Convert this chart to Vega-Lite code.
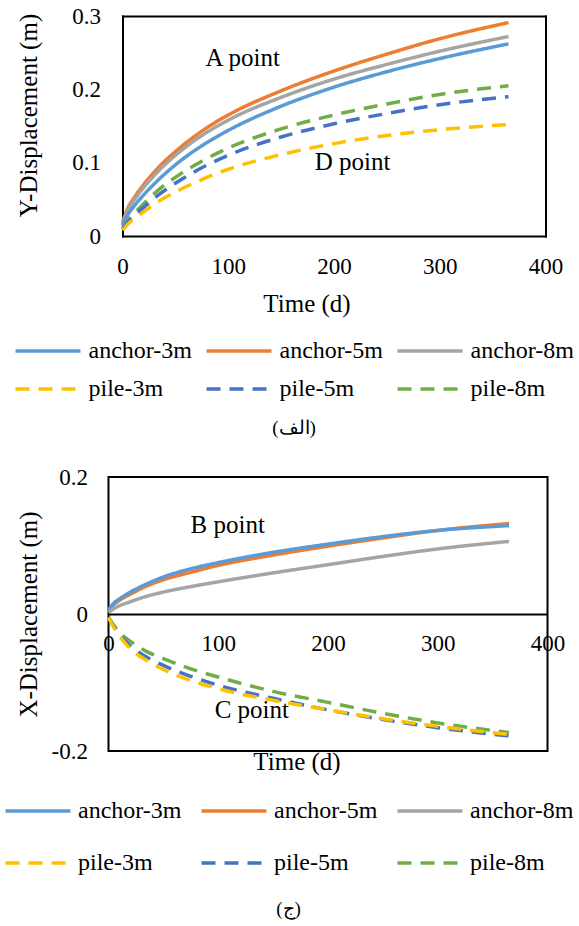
{
  "$schema": "https://vega.github.io/schema/vega-lite/v6.json",
  "background": "white",
  "padding": {"left": 2.5, "top": 5, "right": 0, "bottom": 0},
  "spacing": 27,
  "config": {
    "font": "Liberation Serif",
    "view": {"stroke": "black", "strokeWidth": 2},
    "axis": {
      "labelFont": "Liberation Serif", "titleFont": "Liberation Serif",
      "labelFontSize": 23, "titleFontSize": 25, "titleFontWeight": "normal",
      "labelColor": "black", "titleColor": "black",
      "ticks": false, "tickSize": 0, "grid": false, "domain": false,
      "labelFlush": false, "labelOverlap": false
    },
    "legend": {
      "labelFont": "Liberation Serif", "labelFontSize": 24, "labelColor": "black", "labelLimit": 300
    },
    "title": {"font": "Liberation Serif", "color": "black", "fontWeight": "normal"}
  },
  "datasets": {
    "p1": [
      {"t": 0, "v": 0.018, "s": "anchor-5m"}, {"t": 5, "v": 0.038, "s": "anchor-5m"}, {"t": 10, "v": 0.050, "s": "anchor-5m"}, {"t": 20, "v": 0.070, "s": "anchor-5m"}, {"t": 35, "v": 0.095, "s": "anchor-5m"}, {"t": 50, "v": 0.115, "s": "anchor-5m"}, {"t": 75, "v": 0.143, "s": "anchor-5m"}, {"t": 100, "v": 0.165, "s": "anchor-5m"}, {"t": 150, "v": 0.198, "s": "anchor-5m"}, {"t": 200, "v": 0.225, "s": "anchor-5m"}, {"t": 250, "v": 0.248, "s": "anchor-5m"}, {"t": 300, "v": 0.269, "s": "anchor-5m"}, {"t": 365, "v": 0.291, "s": "anchor-5m"},
      {"t": 0, "v": 0.016, "s": "anchor-8m"}, {"t": 5, "v": 0.035, "s": "anchor-8m"}, {"t": 10, "v": 0.047, "s": "anchor-8m"}, {"t": 20, "v": 0.066, "s": "anchor-8m"}, {"t": 35, "v": 0.090, "s": "anchor-8m"}, {"t": 50, "v": 0.110, "s": "anchor-8m"}, {"t": 75, "v": 0.137, "s": "anchor-8m"}, {"t": 100, "v": 0.158, "s": "anchor-8m"}, {"t": 150, "v": 0.189, "s": "anchor-8m"}, {"t": 200, "v": 0.214, "s": "anchor-8m"}, {"t": 250, "v": 0.234, "s": "anchor-8m"}, {"t": 300, "v": 0.252, "s": "anchor-8m"}, {"t": 365, "v": 0.272, "s": "anchor-8m"},
      {"t": 0, "v": 0.014, "s": "anchor-3m"}, {"t": 5, "v": 0.029, "s": "anchor-3m"}, {"t": 10, "v": 0.039, "s": "anchor-3m"}, {"t": 20, "v": 0.056, "s": "anchor-3m"}, {"t": 35, "v": 0.078, "s": "anchor-3m"}, {"t": 50, "v": 0.097, "s": "anchor-3m"}, {"t": 75, "v": 0.123, "s": "anchor-3m"}, {"t": 100, "v": 0.144, "s": "anchor-3m"}, {"t": 150, "v": 0.177, "s": "anchor-3m"}, {"t": 200, "v": 0.203, "s": "anchor-3m"}, {"t": 250, "v": 0.224, "s": "anchor-3m"}, {"t": 300, "v": 0.242, "s": "anchor-3m"}, {"t": 365, "v": 0.262, "s": "anchor-3m"},
      {"t": 0, "v": 0.010, "s": "pile-8m"}, {"t": 5, "v": 0.021, "s": "pile-8m"}, {"t": 10, "v": 0.029, "s": "pile-8m"}, {"t": 20, "v": 0.044, "s": "pile-8m"}, {"t": 35, "v": 0.064, "s": "pile-8m"}, {"t": 50, "v": 0.080, "s": "pile-8m"}, {"t": 75, "v": 0.102, "s": "pile-8m"}, {"t": 100, "v": 0.120, "s": "pile-8m"}, {"t": 150, "v": 0.146, "s": "pile-8m"}, {"t": 200, "v": 0.165, "s": "pile-8m"}, {"t": 250, "v": 0.180, "s": "pile-8m"}, {"t": 300, "v": 0.193, "s": "pile-8m"}, {"t": 365, "v": 0.205, "s": "pile-8m"},
      {"t": 0, "v": 0.009, "s": "pile-5m"}, {"t": 5, "v": 0.019, "s": "pile-5m"}, {"t": 10, "v": 0.026, "s": "pile-5m"}, {"t": 20, "v": 0.039, "s": "pile-5m"}, {"t": 35, "v": 0.057, "s": "pile-5m"}, {"t": 50, "v": 0.072, "s": "pile-5m"}, {"t": 75, "v": 0.093, "s": "pile-5m"}, {"t": 100, "v": 0.110, "s": "pile-5m"}, {"t": 150, "v": 0.135, "s": "pile-5m"}, {"t": 200, "v": 0.153, "s": "pile-5m"}, {"t": 250, "v": 0.167, "s": "pile-5m"}, {"t": 300, "v": 0.179, "s": "pile-5m"}, {"t": 365, "v": 0.190, "s": "pile-5m"},
      {"t": 0, "v": 0.008, "s": "pile-3m"}, {"t": 5, "v": 0.016, "s": "pile-3m"}, {"t": 10, "v": 0.022, "s": "pile-3m"}, {"t": 20, "v": 0.033, "s": "pile-3m"}, {"t": 35, "v": 0.048, "s": "pile-3m"}, {"t": 50, "v": 0.060, "s": "pile-3m"}, {"t": 75, "v": 0.077, "s": "pile-3m"}, {"t": 100, "v": 0.091, "s": "pile-3m"}, {"t": 150, "v": 0.111, "s": "pile-3m"}, {"t": 200, "v": 0.126, "s": "pile-3m"}, {"t": 250, "v": 0.137, "s": "pile-3m"}, {"t": 300, "v": 0.145, "s": "pile-3m"}, {"t": 365, "v": 0.152, "s": "pile-3m"}
    ],
    "p2": [
      {"t": 0, "v": 0.005, "s": "anchor-5m"}, {"t": 5, "v": 0.014, "s": "anchor-5m"}, {"t": 10, "v": 0.020, "s": "anchor-5m"}, {"t": 20, "v": 0.029, "s": "anchor-5m"}, {"t": 35, "v": 0.041, "s": "anchor-5m"}, {"t": 50, "v": 0.050, "s": "anchor-5m"}, {"t": 75, "v": 0.061, "s": "anchor-5m"}, {"t": 100, "v": 0.071, "s": "anchor-5m"}, {"t": 150, "v": 0.086, "s": "anchor-5m"}, {"t": 200, "v": 0.099, "s": "anchor-5m"}, {"t": 250, "v": 0.111, "s": "anchor-5m"}, {"t": 300, "v": 0.122, "s": "anchor-5m"}, {"t": 365, "v": 0.132, "s": "anchor-5m"},
      {"t": 0, "v": 0.006, "s": "anchor-3m"}, {"t": 5, "v": 0.016, "s": "anchor-3m"}, {"t": 10, "v": 0.022, "s": "anchor-3m"}, {"t": 20, "v": 0.032, "s": "anchor-3m"}, {"t": 35, "v": 0.044, "s": "anchor-3m"}, {"t": 50, "v": 0.054, "s": "anchor-3m"}, {"t": 75, "v": 0.066, "s": "anchor-3m"}, {"t": 100, "v": 0.075, "s": "anchor-3m"}, {"t": 150, "v": 0.090, "s": "anchor-3m"}, {"t": 200, "v": 0.102, "s": "anchor-3m"}, {"t": 250, "v": 0.113, "s": "anchor-3m"}, {"t": 300, "v": 0.122, "s": "anchor-3m"}, {"t": 365, "v": 0.129, "s": "anchor-3m"},
      {"t": 0, "v": 0.002, "s": "anchor-8m"}, {"t": 5, "v": 0.008, "s": "anchor-8m"}, {"t": 10, "v": 0.012, "s": "anchor-8m"}, {"t": 20, "v": 0.018, "s": "anchor-8m"}, {"t": 35, "v": 0.026, "s": "anchor-8m"}, {"t": 50, "v": 0.032, "s": "anchor-8m"}, {"t": 75, "v": 0.040, "s": "anchor-8m"}, {"t": 100, "v": 0.047, "s": "anchor-8m"}, {"t": 150, "v": 0.060, "s": "anchor-8m"}, {"t": 200, "v": 0.072, "s": "anchor-8m"}, {"t": 250, "v": 0.084, "s": "anchor-8m"}, {"t": 300, "v": 0.095, "s": "anchor-8m"}, {"t": 365, "v": 0.106, "s": "anchor-8m"},
      {"t": 0, "v": -0.005, "s": "pile-8m"}, {"t": 5, "v": -0.017, "s": "pile-8m"}, {"t": 10, "v": -0.027, "s": "pile-8m"}, {"t": 20, "v": -0.040, "s": "pile-8m"}, {"t": 35, "v": -0.055, "s": "pile-8m"}, {"t": 50, "v": -0.065, "s": "pile-8m"}, {"t": 75, "v": -0.080, "s": "pile-8m"}, {"t": 100, "v": -0.092, "s": "pile-8m"}, {"t": 150, "v": -0.113, "s": "pile-8m"}, {"t": 200, "v": -0.129, "s": "pile-8m"}, {"t": 250, "v": -0.145, "s": "pile-8m"}, {"t": 300, "v": -0.159, "s": "pile-8m"}, {"t": 365, "v": -0.173, "s": "pile-8m"},
      {"t": 0, "v": -0.005, "s": "pile-5m"}, {"t": 5, "v": -0.019, "s": "pile-5m"}, {"t": 10, "v": -0.030, "s": "pile-5m"}, {"t": 20, "v": -0.047, "s": "pile-5m"}, {"t": 35, "v": -0.063, "s": "pile-5m"}, {"t": 50, "v": -0.075, "s": "pile-5m"}, {"t": 75, "v": -0.091, "s": "pile-5m"}, {"t": 100, "v": -0.104, "s": "pile-5m"}, {"t": 150, "v": -0.123, "s": "pile-5m"}, {"t": 200, "v": -0.140, "s": "pile-5m"}, {"t": 250, "v": -0.154, "s": "pile-5m"}, {"t": 300, "v": -0.166, "s": "pile-5m"}, {"t": 365, "v": -0.178, "s": "pile-5m"},
      {"t": 0, "v": -0.005, "s": "pile-3m"}, {"t": 5, "v": -0.020, "s": "pile-3m"}, {"t": 10, "v": -0.032, "s": "pile-3m"}, {"t": 20, "v": -0.051, "s": "pile-3m"}, {"t": 35, "v": -0.068, "s": "pile-3m"}, {"t": 50, "v": -0.081, "s": "pile-3m"}, {"t": 75, "v": -0.097, "s": "pile-3m"}, {"t": 100, "v": -0.109, "s": "pile-3m"}, {"t": 150, "v": -0.126, "s": "pile-3m"}, {"t": 200, "v": -0.140, "s": "pile-3m"}, {"t": 250, "v": -0.153, "s": "pile-3m"}, {"t": 300, "v": -0.164, "s": "pile-3m"}, {"t": 365, "v": -0.176, "s": "pile-3m"}
    ],
    "t1": [
      {"t": 78.6, "v": 0.243, "label": "A point"},
      {"t": 181.7, "v": 0.101, "label": "D point"}
    ],
    "t2": [
      {"t": 74.8, "v": 0.130, "label": "B point"},
      {"t": 96.7, "v": -0.140, "label": "C point"}
    ]
  },
  "resolve": {
    "scale": {"color": "independent", "strokeDash": "independent"},
    "legend": {"color": "independent", "strokeDash": "independent"}
  },
  "vconcat": [
    {
      "width": 437,
      "height": 220,
      "view": {"stroke": null},
      "title": {"text": "(الف)", "orient": "bottom", "anchor": "middle", "frame": "bounds", "offset": 17, "fontSize": 19},
      "resolve": {"axis": {"x": "independent", "y": "independent"}},
      "layer": [
        {
          "data": {"name": "p1"},
          "mark": {"type": "line", "strokeWidth": 3.5, "interpolate": "monotone"},
          "encoding": {
            "x": {"field": "t", "type": "quantitative", "scale": {"domain": [0, 400], "nice": false, "range": [14, 437]},
                  "axis": {"orient": "bottom", "values": [0, 100, 200, 300, 400], "title": "Time (d)", "domain": true, "domainColor": "black", "domainWidth": 2, "domainCap": "square", "labelPadding": 19, "titlePadding": 13, "titleX": 198, "titleAlign": "center"}},
            "y": {"field": "v", "type": "quantitative", "scale": {"domain": [0, 0.3], "nice": false},
                  "axis": {"orient": "left", "offset": -14, "values": [0, 0.1, 0.2, 0.3], "format": "~g", "title": "Y-Displacement (m)", "domain": true, "domainColor": "black", "domainWidth": 2, "domainCap": "square", "labelPadding": 22, "titlePadding": 30, "titleY": 99}},
            "color": {"field": "s", "type": "nominal",
                      "scale": {"domain": ["anchor-3m", "pile-3m", "anchor-5m", "pile-5m", "anchor-8m", "pile-8m"],
                                "range": ["#5B9BD5", "#FFC000", "#ED7D31", "#4472C4", "#A5A5A5", "#70AD47"]},
                      "legend": {"orient": "none", "legendX": -95, "legendY": 322, "columns": 3, "title": null, "symbolType": "stroke", "symbolSize": 4225, "symbolStrokeWidth": 3.5, "clipHeight": 26, "labelFont": "Liberation Serif", "labelFontSize": 24, "labelOffset": 6, "columnPadding": 12, "rowPadding": 12, "gridAlign": "each", "padding": 0}},
            "strokeDash": {"field": "s", "type": "nominal",
                      "scale": {"domain": ["anchor-3m", "pile-3m", "anchor-5m", "pile-5m", "anchor-8m", "pile-8m"],
                                "range": [[1, 0], [14, 9], [1, 0], [14, 9], [1, 0], [14, 9]]},
                      "legend": {"orient": "none", "legendX": -95, "legendY": 322, "columns": 3, "title": null, "symbolType": "stroke", "symbolSize": 4225, "symbolStrokeWidth": 3.5, "clipHeight": 26, "labelFont": "Liberation Serif", "labelFontSize": 24, "labelOffset": 6, "columnPadding": 12, "rowPadding": 12, "gridAlign": "each", "padding": 0}}
          }
        },
        {
          "data": {"name": "t1"},
          "mark": {"type": "text", "align": "left", "baseline": "middle", "font": "Liberation Serif", "fontSize": 25, "color": "black"},
          "encoding": {
            "x": {"field": "t", "type": "quantitative",
                  "axis": {"orient": "top", "labels": false, "title": null, "domain": true, "domainColor": "black", "domainWidth": 2, "domainCap": "square"}},
            "y": {"field": "v", "type": "quantitative",
                  "axis": {"orient": "right", "labels": false, "title": null, "domain": true, "domainColor": "black", "domainWidth": 2, "domainCap": "square"}},
            "text": {"field": "label"}
          }
        }
      ]
    },
    {
      "width": 439,
      "height": 274,
      "title": {"text": "(ج)", "orient": "bottom", "anchor": "middle", "frame": "bounds", "offset": 24, "fontSize": 19},
      "layer": [
        {
          "data": {"name": "p2"},
          "mark": {"type": "line", "strokeWidth": 3.5, "interpolate": "monotone"},
          "encoding": {
            "x": {"field": "t", "type": "quantitative", "scale": {"domain": [0, 400], "nice": false},
                  "axis": {"values": [0, 100, 200, 300, 400], "title": "Time (d)", "offset": -137, "domain": true, "domainColor": "black", "domainWidth": 2, "labelPadding": 18, "titleY": 135, "titleX": 188, "titleAlign": "center"}},
            "y": {"field": "v", "type": "quantitative", "scale": {"domain": [-0.2, 0.2], "nice": false},
                  "axis": {"values": [-0.2, 0, 0.2], "format": "~g", "labelExpr": "replace(datum.label, '\u2212', '-')", "title": "X-Displacement (m)", "labelPadding": 21, "titlePadding": 10}},
            "color": {"field": "s", "type": "nominal",
                      "scale": {"domain": ["anchor-3m", "pile-3m", "anchor-5m", "pile-5m", "anchor-8m", "pile-8m"],
                                "range": ["#5B9BD5", "#FFC000", "#ED7D31", "#4472C4", "#A5A5A5", "#70AD47"]},
                      "legend": {"orient": "none", "legendX": -105, "legendY": 321, "columns": 3, "title": null, "symbolType": "stroke", "symbolSize": 4225, "symbolStrokeWidth": 3.5, "clipHeight": 26, "labelFont": "Liberation Serif", "labelFontSize": 24, "labelOffset": 5.5, "columnPadding": 18, "rowPadding": 26, "gridAlign": "each", "padding": 0}},
            "strokeDash": {"field": "s", "type": "nominal",
                      "scale": {"domain": ["anchor-3m", "pile-3m", "anchor-5m", "pile-5m", "anchor-8m", "pile-8m"],
                                "range": [[1, 0], [14, 9], [1, 0], [14, 9], [1, 0], [14, 9]]},
                      "legend": {"orient": "none", "legendX": -105, "legendY": 321, "columns": 3, "title": null, "symbolType": "stroke", "symbolSize": 4225, "symbolStrokeWidth": 3.5, "clipHeight": 26, "labelFont": "Liberation Serif", "labelFontSize": 24, "labelOffset": 5.5, "columnPadding": 18, "rowPadding": 26, "gridAlign": "each", "padding": 0}}
          }
        },
        {
          "data": {"name": "t2"},
          "mark": {"type": "text", "align": "left", "baseline": "middle", "font": "Liberation Serif", "fontSize": 25, "color": "black"},
          "encoding": {
            "x": {"field": "t", "type": "quantitative"},
            "y": {"field": "v", "type": "quantitative"},
            "text": {"field": "label"}
          }
        }
      ]
    }
  ]
}
